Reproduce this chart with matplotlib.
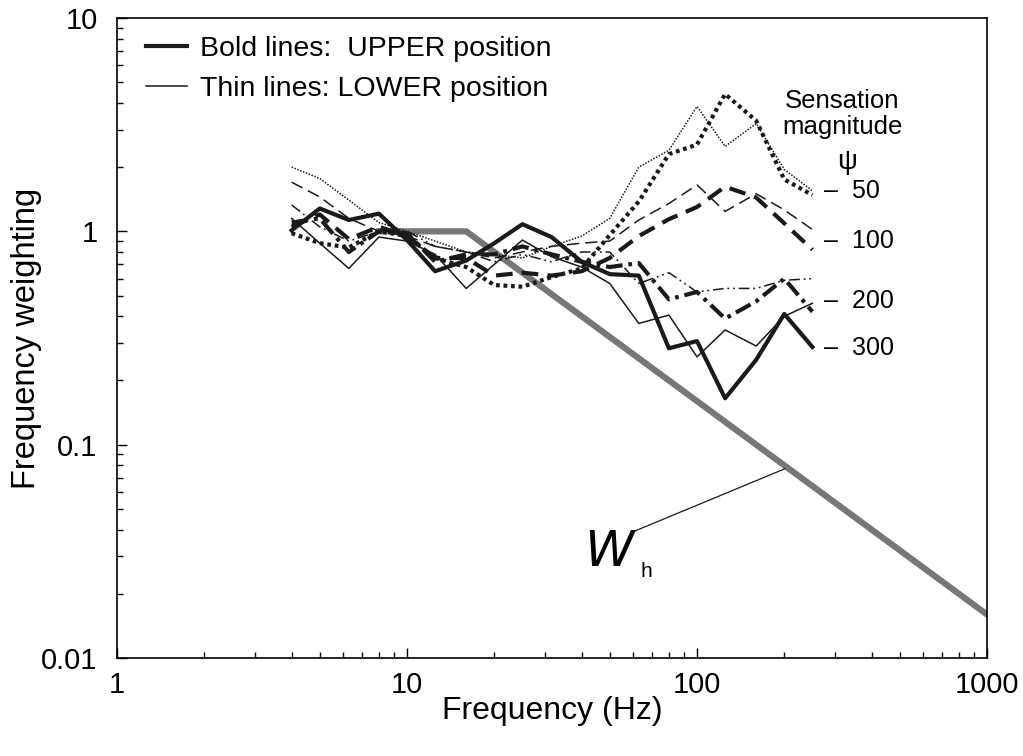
import matplotlib.pyplot as plt
from matplotlib.lines import Line2D

plt.rcParams['font.family'] = ['Liberation Sans', 'DejaVu Sans']

# one-third octave band centre frequencies (Hz)
freq = [4, 5, 6.3, 8, 10, 12.5, 16, 20, 25, 31.5, 40, 50, 63, 80, 100, 125, 160, 200, 250]

# frequency weightings, UPPER position (bold) and LOWER position (thin)
upper_50 = [0.98, 0.88, 0.84, 1.0, 0.95, 0.75, 0.68, 0.56, 0.55, 0.61, 0.67, 0.96, 1.38, 2.3, 2.55, 4.4, 3.3, 1.75, 1.48]
lower_50 = [2.0, 1.77, 1.4, 1.1, 1.0, 0.9, 0.8, 0.78, 0.75, 0.85, 0.95, 1.15, 2.0, 2.4, 3.85, 2.5, 3.2, 1.95, 1.55]
upper_100 = [1.05, 1.2, 0.92, 1.05, 0.95, 0.75, 0.75, 0.62, 0.64, 0.62, 0.65, 0.75, 0.95, 1.14, 1.3, 1.62, 1.44, 1.09, 0.82]
lower_100 = [1.7, 1.45, 1.15, 1.0, 0.95, 0.85, 0.8, 0.75, 0.8, 0.85, 0.88, 0.9, 1.13, 1.35, 1.65, 1.24, 1.5, 1.26, 1.02]
upper_200 = [1.1, 1.15, 0.8, 1.0, 0.98, 0.72, 0.78, 0.78, 0.85, 0.78, 0.72, 0.68, 0.71, 0.48, 0.52, 0.39, 0.47, 0.6, 0.42]
lower_200 = [1.33, 1.05, 0.9, 1.0, 1.0, 0.85, 0.8, 0.72, 0.78, 0.72, 0.8, 0.8, 0.57, 0.64, 0.52, 0.54, 0.54, 0.59, 0.6]
upper_300 = [1.01, 1.28, 1.13, 1.21, 0.91, 0.65, 0.73, 0.88, 1.08, 0.94, 0.72, 0.63, 0.62, 0.283, 0.306, 0.165, 0.25, 0.41, 0.287]
lower_300 = [1.15, 0.88, 0.67, 0.94, 0.9, 0.78, 0.54, 0.7, 0.91, 0.76, 0.68, 0.57, 0.37, 0.405, 0.258, 0.345, 0.29, 0.40, 0.46]

# Wh hand-transmitted vibration weighting (asymptotic)
wh_freq = [8, 16, 1000]
wh_val = [1.0, 1.0, 0.016]

magnitudes = ['50', '100', '200', '300']
x_ticks = [1, 10, 100, 1000]
x_labels = ['1', '10', '100', '1000']
y_ticks = [0.01, 0.1, 1, 10]
y_labels = ['0.01', '0.1', '1', '10']

bold_w = 3.0
thin_w = 1.1
ink = '#1a1a1a'

fig = plt.figure(figsize=(10.23, 7.56), dpi=100)
ax = fig.add_axes([0.1144, 0.1296, 0.8504, 0.8466])

ax.plot(wh_freq, wh_val, color='#777777', lw=4.5, solid_joinstyle='miter', zorder=1)

ax.plot(freq, lower_50, color=ink, lw=thin_w, ls=(0, (1, 1)))
ax.plot(freq, lower_100, color=ink, lw=thin_w, ls=(0, (8, 4)))
ax.plot(freq, lower_200, color=ink, lw=thin_w, ls=(0, (7, 2.5, 1.2, 2.5, 1.2, 2.5)))
ax.plot(freq, lower_300, color=ink, lw=thin_w)

ax.plot(freq, upper_50, color=ink, lw=bold_w, ls=(0, (0.9, 0.9)))
ax.plot(freq, upper_100, color=ink, lw=bold_w, ls=(0, (4, 2.2)))
ax.plot(freq, upper_200, color=ink, lw=bold_w, ls=(0, (4, 1.4, 0.9, 1.4)))
ax.plot(freq, upper_300, color=ink, lw=bold_w)

ax.set_xscale('log')
ax.set_yscale('log')
ax.set_xlim(1, 1000)
ax.set_ylim(0.01, 10)
ax.set_xticks(x_ticks, x_labels)
ax.set_yticks(y_ticks, y_labels)
ax.tick_params(which='both', direction='in', top=False, right=False, labelsize=21)
ax.tick_params(axis='x', pad=9)
ax.tick_params(axis='y', pad=14)
ax.tick_params(which='major', length=7, width=1)
ax.tick_params(which='minor', length=4, width=1)
for s in ax.spines.values():
    s.set_linewidth(1.2)

ax.set_xlabel('Frequency (Hz)', fontsize=23)
ax.set_ylabel('Frequency weighting', fontsize=23.5)
ax.xaxis.set_label_coords(0.5, -0.06)
ax.yaxis.set_label_coords(-0.086, 0.5)

# legend for line weight
handles = [Line2D([], [], color=ink, lw=bold_w),
           Line2D([], [], color=ink, lw=thin_w)]
ax.legend(handles, ['Bold lines:  UPPER position', 'Thin lines: LOWER position'],
          loc='upper left', bbox_to_anchor=(0.004, 1.012), frameon=False,
          fontsize=20.5, handlelength=1.45, handletextpad=0.45, labelspacing=0.5)

# sensation magnitude labels at the right-hand end of the curves
ax.text(0.834, 0.870, 'Sensation', transform=ax.transAxes, ha='center', va='center', fontsize=18.5)
ax.text(0.834, 0.830, 'magnitude', transform=ax.transAxes, ha='center', va='center', fontsize=18.5)
ax.text(0.839, 0.775, 'ψ', transform=ax.transAxes, ha='center', va='center', fontsize=20)
for m, yf in zip(magnitudes, [0.730, 0.651, 0.558, 0.484]):
    ax.text(0.813, yf, '–  ' + m, transform=ax.transAxes, ha='left', va='center', fontsize=18)

# Wh label with leader line
ax.annotate('', xy=(205, 0.078), xytext=(60, 0.039),
            arrowprops=dict(arrowstyle='-', color=ink, lw=0.9))
ax.text(62, 0.031, '$W$', fontsize=36, ha='right', va='center')
ax.text(64, 0.0255, 'h', fontsize=15, ha='left', va='center')

fig.savefig('out.png', dpi=100)
